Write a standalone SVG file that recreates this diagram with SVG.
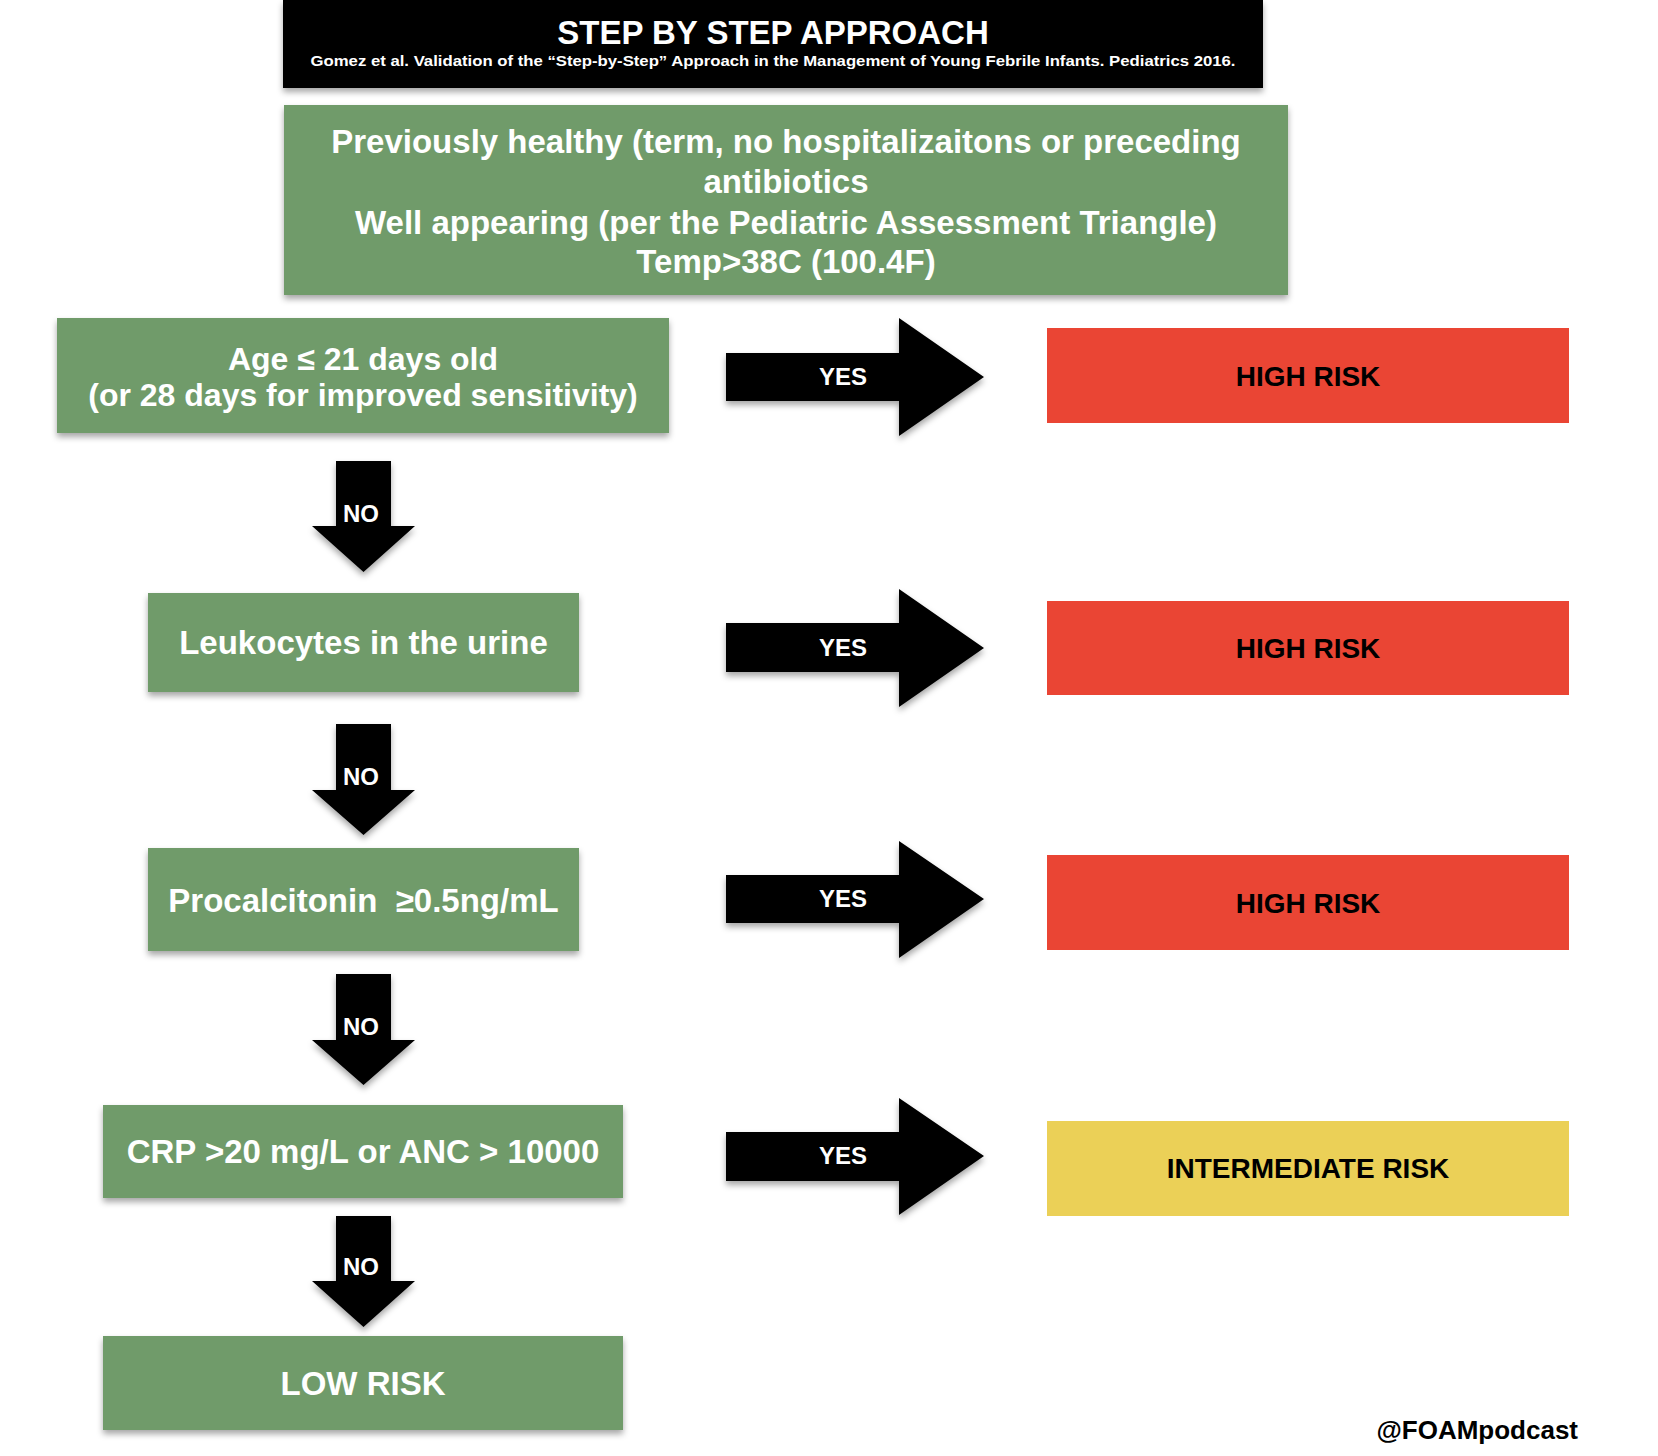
<svg xmlns="http://www.w3.org/2000/svg" width="1658" height="1456" viewBox="0 0 1658 1456">
<defs>
<filter id="sh" x="-10%" y="-20%" width="120%" height="150%">
<feDropShadow dx="0" dy="4" stdDeviation="3" flood-color="#000" flood-opacity="0.35"/>
</filter>
<style>
text{font-family:"Liberation Sans",Arial,Helvetica,sans-serif;font-weight:bold;}
.g{fill:#6f9b6b;}
.red{fill:#ea4534;}
.yel{fill:#ebd057;}
.wt{fill:#ffffff;font-size:33px;text-anchor:middle;}
.bt{fill:#000000;font-size:28px;text-anchor:middle;}
.lab{fill:#ffffff;font-size:24px;text-anchor:middle;}
.arr{fill:#000000;filter:url(#sh);}
</style>
</defs>
<rect width="1658" height="1456" fill="#ffffff"/>

<g id="title">
<rect x="283" y="0" width="980" height="88" fill="#000000" filter="url(#sh)"/>
<text x="773" y="44" style="fill:#fff;font-size:33px;text-anchor:middle">STEP BY STEP APPROACH</text>
<text x="773" y="66" style="fill:#fff;font-size:15.5px;text-anchor:middle" textLength="925" lengthAdjust="spacingAndGlyphs">Gomez et al. Validation of the “Step-by-Step” Approach in the Management of Young Febrile Infants. Pediatrics 2016.</text>
</g>

<g id="criteria">
<rect class="g" x="284" y="105" width="1004" height="190" filter="url(#sh)"/>
<text class="wt" x="786" y="153">Previously healthy (term, no hospitalizaitons or preceding</text>
<text class="wt" x="786" y="193">antibiotics</text>
<text class="wt" x="786" y="234">Well appearing (per the Pediatric Assessment Triangle)</text>
<text class="wt" x="786" y="273">Temp&gt;38C (100.4F)</text>
</g>

<g id="age">
<rect class="g" x="57" y="318" width="612" height="115" filter="url(#sh)"/>
<text class="wt" x="363" y="370" style="font-size:32px">Age ≤ 21 days old</text>
<text class="wt" x="363" y="406" style="font-size:32px">(or 28 days for improved sensitivity)</text>
</g>

<g id="leukocytes">
<rect class="g" x="148" y="593" width="431" height="99" filter="url(#sh)"/>
<text class="wt" x="363.5" y="654">Leukocytes in the urine</text>
</g>

<g id="procalcitonin">
<rect class="g" x="148" y="848" width="431" height="103" filter="url(#sh)"/>
<text class="wt" x="363.5" y="912" xml:space="preserve">Procalcitonin  ≥0.5ng/mL</text>
</g>

<g id="crp">
<rect class="g" x="103" y="1105" width="520" height="93" filter="url(#sh)"/>
<text class="wt" x="363" y="1163">CRP &gt;20 mg/L or ANC &gt; 10000</text>
</g>

<g id="low-risk">
<rect class="g" x="103" y="1336" width="520" height="94" filter="url(#sh)"/>
<text class="wt" x="363" y="1395">LOW RISK</text>
</g>

<g id="high-risk-1">
<rect class="red" x="1047" y="328" width="522" height="95"/>
<text class="bt" x="1308" y="386">HIGH RISK</text>
</g>

<g id="high-risk-2">
<rect class="red" x="1047" y="601" width="522" height="94"/>
<text class="bt" x="1308" y="658">HIGH RISK</text>
</g>

<g id="high-risk-3">
<rect class="red" x="1047" y="855" width="522" height="95"/>
<text class="bt" x="1308" y="913">HIGH RISK</text>
</g>

<g id="intermediate-risk">
<rect class="yel" x="1047" y="1121" width="522" height="95"/>
<text class="bt" x="1308" y="1178">INTERMEDIATE RISK</text>
</g>

<g id="footer">
<text x="1578" y="1439" style="fill:#000;font-size:26px;text-anchor:end">@FOAMpodcast</text>
</g>

<g id="connectors">
<path class="arr" d="M726,353 H899 V318 L984,377 L899,436 V401 H726 Z"/>
<text class="lab" x="843" y="385">YES</text>
<path class="arr" d="M726,623 H899 V589 L984,648 L899,707 V672 H726 Z"/>
<text class="lab" x="843" y="656">YES</text>
<path class="arr" d="M726,875 H899 V841 L984,899 L899,958 V923 H726 Z"/>
<text class="lab" x="843" y="907">YES</text>
<path class="arr" d="M726,1132 H899 V1098 L984,1156 L899,1215 V1181 H726 Z"/>
<text class="lab" x="843" y="1164">YES</text>

<path class="arr" d="M336,461 H391 V526 H415 L363.5,572 L312,526 H336 Z"/>
<text class="lab" x="361" y="522">NO</text>
<path class="arr" d="M336,724 H391 V790 H415 L363.5,835 L312,790 H336 Z"/>
<text class="lab" x="361" y="785">NO</text>
<path class="arr" d="M336,974 H391 V1040 H415 L363.5,1085 L312,1040 H336 Z"/>
<text class="lab" x="361" y="1035">NO</text>
<path class="arr" d="M336,1216 H391 V1281 H415 L363.5,1327 L312,1281 H336 Z"/>
<text class="lab" x="361" y="1275">NO</text>
</g>
</svg>
